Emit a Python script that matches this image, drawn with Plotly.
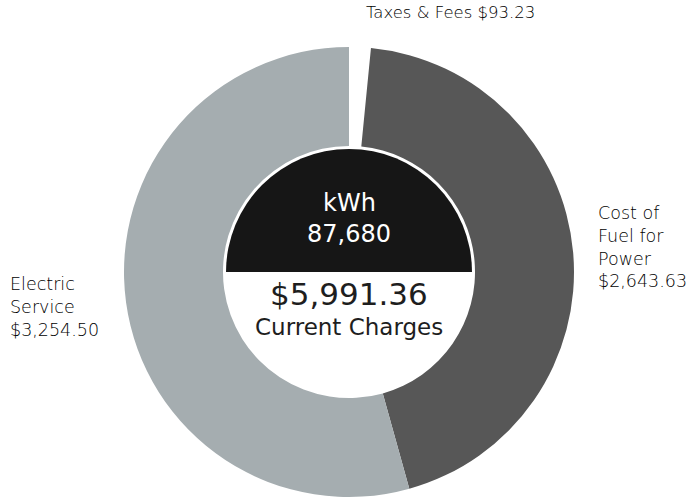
import plotly.graph_objects as go

# ---- data ----
categories = ["Taxes & Fees", "Cost of Fuel for Power", "Electric Service"]
amounts = [93.23, 2643.63, 3254.50]
slice_colors = ["#ffffff", "#575757", "#a5adb0"]
kwh_total = 87680
total_charges = sum(amounts)

W, H = 694, 497

# layout geometry (pixels)
cx, cy = 349, 272          # donut centre (from top)
r_out, r_in = 226, 126      # outer and hole radii
r_cap = 123                 # black cap radius

def px_dom(cx, cy, r):
    cyb = H - cy
    return dict(x=[(cx - r) / W, (cx + r) / W],
                y=[max(0, (cyb - r) / H), min(1, (cyb + r) / H)])

outer_dom = dict(x=[(cx - r_out) / W, (cx + r_out) / W],
                 y=[0, 2 * (H - cy) / H])
r_eff = min(2 * r_out, 2 * (H - cy)) / 2

fig = go.Figure()
fig.add_trace(go.Pie(
    labels=categories, values=amounts, sort=False, direction="clockwise",
    rotation=0, hole=r_in / r_eff, domain=outer_dom,
    marker=dict(colors=slice_colors, line=dict(color="#ffffff", width=0)),
    textinfo="none", hoverinfo="label+value", showlegend=False,
))

# centre cap: black upper half, white lower half
fig.add_trace(go.Pie(
    labels=["kWh", "Charges"], values=[1, 1], sort=False, direction="clockwise",
    rotation=-90, domain=px_dom(cx, cy, r_cap),
    marker=dict(colors=["#161616", "#ffffff"], line=dict(width=0)),
    textinfo="none", hoverinfo="skip", showlegend=False,
))

FONT = "DejaVu Sans"

def ann(text, x_px, y_px, size, color, xanchor="center", align="center", weight=400):
    fig.add_annotation(text=text, x=x_px / W, y=1 - y_px / H, xref="paper", yref="paper",
                       xanchor=xanchor, yanchor="middle", align=align, showarrow=False,
                       font=dict(family=FONT, size=size, color=color, weight=weight))

def money(v):
    return "${:,.2f}".format(v)

ann(f"{categories[0]} {money(amounts[0])}", 450, 13, 16.5, "#000000", weight=300)
ann(f"Cost of<br>Fuel for<br>Power<br>{money(amounts[1])}", 596, 247, 17.5, "#000000",
    xanchor="left", align="left", weight=300)
ann(f"Electric<br>Service<br>{money(amounts[2])}", 8, 307, 17.5, "#000000",
    xanchor="left", align="left", weight=300)

ann("kWh", cx, 203, 24, "#ffffff")
ann(f"{kwh_total:,}", cx, 234, 24, "#ffffff")
ann(money(total_charges), cx, 294, 31, "#1e1e1e")
ann("Current Charges", cx, 327, 23, "#1e1e1e")

fig.update_layout(width=W, height=H, margin=dict(l=0, r=0, t=0, b=0),
                  paper_bgcolor="#ffffff", plot_bgcolor="#ffffff")

fig.write_html("out.html", config={"displayModeBar": False},
               post_script="document.body.style.margin='0';")
